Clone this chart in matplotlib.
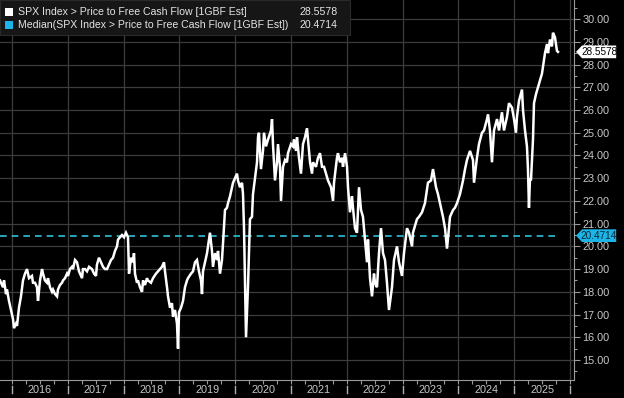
import matplotlib
matplotlib.use("Agg")
import matplotlib.pyplot as plt
import matplotlib.transforms as mtransforms
from matplotlib.patches import Polygon, Rectangle
import numpy as np

# ---- data (decimal year, P/FCF value) ----
dates = [
    2015.785, 2015.839, 2015.857, 2015.893, 2015.910, 2015.946, 2015.982, 2016.018, 2016.036, 2016.072,
    2016.090, 2016.125, 2016.161, 2016.197, 2016.233, 2016.269, 2016.305, 2016.358, 2016.376, 2016.412,
    2016.448, 2016.466, 2016.502, 2016.538, 2016.556, 2016.591, 2016.627, 2016.645, 2016.681, 2016.717,
    2016.735, 2016.771, 2016.807, 2016.824, 2016.860, 2016.896, 2016.914, 2016.950, 2016.986, 2017.004,
    2017.039, 2017.075, 2017.093, 2017.129, 2017.165, 2017.201, 2017.255, 2017.272, 2017.308, 2017.344,
    2017.380, 2017.434, 2017.470, 2017.505, 2017.523, 2017.559, 2017.595, 2017.631, 2017.667, 2017.703,
    2017.738, 2017.774, 2017.810, 2017.846, 2017.882, 2017.900, 2017.936, 2017.971, 2018.007, 2018.043,
    2018.079,
    2018.097, 2018.133, 2018.168, 2018.186, 2018.204, 2018.240, 2018.258, 2018.294, 2018.330, 2018.348,
    2018.383, 2018.419, 2018.437, 2018.491, 2018.527, 2018.581, 2018.617, 2018.688, 2018.724, 2018.742,
    2018.778, 2018.796, 2018.832, 2018.867, 2018.885, 2018.921, 2018.957, 2018.975, 2018.993, 2019.029,
    2019.065, 2019.100, 2019.136, 2019.154, 2019.208, 2019.244, 2019.280, 2019.315, 2019.351, 2019.387,
    2019.405, 2019.423, 2019.459, 2019.495, 2019.513, 2019.548, 2019.584, 2019.602, 2019.638, 2019.674,
    2019.692, 2019.728, 2019.763, 2019.781, 2019.817, 2019.853, 2019.871, 2019.907, 2019.943, 2019.961,
    2019.996, 2020.032, 2020.050, 2020.086, 2020.122, 2020.140, 2020.158, 2020.176,
    2020.194, 2020.229, 2020.265, 2020.301, 2020.319, 2020.355, 2020.391, 2020.409, 2020.426, 2020.462,
    2020.498, 2020.516, 2020.552, 2020.588, 2020.642, 2020.660, 2020.677, 2020.713, 2020.749, 2020.767,
    2020.803, 2020.821, 2020.857, 2020.893, 2020.928, 2020.946, 2021.000, 2021.036, 2021.054, 2021.090,
    2021.108, 2021.143, 2021.179, 2021.215, 2021.251, 2021.287, 2021.305, 2021.341, 2021.377, 2021.394,
    2021.448, 2021.484, 2021.520, 2021.556, 2021.592, 2021.627, 2021.663, 2021.717, 2021.753, 2021.771,
    2021.824, 2021.842, 2021.878, 2021.914, 2021.932, 2021.968, 2022.004, 2022.022, 2022.057, 2022.093,
    2022.111, 2022.147, 2022.183, 2022.219,
    2022.255, 2022.290, 2022.326, 2022.362, 2022.380, 2022.416, 2022.452, 2022.488, 2022.505, 2022.541,
    2022.577, 2022.613, 2022.649, 2022.685, 2022.720, 2022.756, 2022.810, 2022.846, 2022.900, 2022.936,
    2022.989, 2023.025, 2023.079, 2023.115, 2023.169, 2023.186, 2023.258, 2023.294, 2023.348, 2023.401,
    2023.455, 2023.509, 2023.545, 2023.599, 2023.634, 2023.688, 2023.724, 2023.760, 2023.796, 2023.850,
    2023.904, 2023.939, 2023.975, 2024.029, 2024.083, 2024.119, 2024.154, 2024.208, 2024.262, 2024.280,
    2024.333, 2024.369, 2024.423, 2024.459, 2024.513, 2024.531, 2024.566, 2024.602, 2024.638, 2024.692,
    2024.728, 2024.781, 2024.817, 2024.871, 2024.907, 2024.961, 2024.997, 2025.032, 2025.050, 2025.086,
    2025.140, 2025.158, 2025.194, 2025.229, 2025.247, 2025.265, 2025.283, 2025.301, 2025.337, 2025.355,
    2025.391, 2025.427, 2025.462, 2025.498, 2025.516, 2025.552, 2025.588, 2025.606, 2025.642, 2025.677,
    2025.695, 2025.731, 2025.767, 2025.785,
]
pfcf = [
    18.5, 18.2, 18.5, 17.9, 18.1, 17.6, 17.2, 16.8, 16.4, 16.6,
    16.5, 17.3, 17.8, 18.5, 18.8, 19.0, 18.6, 18.7, 18.4, 18.4,
    18.2, 17.6, 18.5, 19.0, 18.8, 18.5, 18.4, 18.6, 18.2, 18.0,
    18.1, 17.9, 17.8, 18.1, 18.3, 18.4, 18.5, 18.6, 18.8, 18.7,
    19.0, 19.1, 19.0, 19.4, 19.3, 18.9, 18.6, 19.0, 19.0, 18.9,
    19.1, 19.0, 18.8, 18.7, 19.2, 19.5, 19.3, 19.1, 19.0, 19.0,
    19.2, 19.4, 19.5, 19.8, 20.0, 20.3, 20.4, 20.5, 20.4, 20.6,
    20.4,
    18.8, 19.5, 19.3, 19.7, 18.8, 18.4, 18.5, 18.2, 18.0, 18.5,
    18.3, 18.6, 18.5, 18.4, 18.6, 18.8, 18.9, 19.1, 19.3, 18.9,
    18.2, 17.8, 17.3, 17.5, 16.9, 17.2, 16.6, 15.5, 17.1, 17.3,
    17.6, 18.2, 18.5, 18.6, 18.8, 18.9, 19.3, 19.4, 18.9, 18.5,
    17.9, 18.9, 19.3, 19.7, 20.0, 20.6, 19.8, 19.1, 19.7, 19.4,
    19.8, 18.8, 19.4, 20.1, 21.6, 21.7, 21.9, 22.2, 22.6, 22.8,
    23.0, 23.2, 22.9, 22.6, 22.8, 22.3, 20.8, 18.5,
    16.0, 18.2, 21.2, 21.3, 22.3, 23.0, 23.7, 24.8, 25.0, 23.4,
    24.2, 25.0, 24.4, 24.7, 25.1, 25.6, 24.5, 22.9, 23.7, 24.5,
    23.5, 22.0, 23.5, 23.8, 23.7, 24.1, 24.5, 24.4, 24.7, 24.2,
    24.8, 23.9, 23.2, 24.5, 24.8, 25.2, 24.7, 23.7, 23.2, 23.7,
    23.5, 23.9, 24.1, 23.5, 23.5, 23.2, 22.9, 22.6, 22.0, 22.8,
    23.9, 24.1, 23.7, 23.9, 23.5, 24.1, 23.5, 22.6, 21.5, 22.2,
    21.7, 20.8, 20.6, 22.6,
    21.6, 21.3, 20.3, 19.3, 20.3, 18.6, 17.8, 18.8, 18.4, 18.2,
    19.7, 20.8, 19.7, 19.4, 18.4, 17.2, 18.2, 19.4, 20.0, 19.3,
    18.7, 19.7, 20.8, 20.6, 20.0, 20.6, 21.2, 21.3, 21.5, 21.9,
    22.8, 22.9, 23.4, 22.6, 22.3, 21.7, 21.3, 20.8, 19.9, 21.3,
    21.6, 21.7, 21.9, 22.3, 22.9, 23.4, 23.8, 24.2, 23.8, 22.8,
    23.9, 24.5, 25.0, 25.1, 25.6, 25.8, 25.1, 23.7, 25.1, 25.6,
    25.1, 25.9, 25.1, 25.7, 26.3, 26.1, 25.6, 25.0, 25.7, 26.4,
    26.9, 26.0, 25.1, 24.4, 23.4, 21.7, 23.0, 22.9, 24.7, 26.3,
    26.7, 27.0, 27.3, 27.6, 27.9, 28.5, 28.9, 28.5, 29.1, 28.8,
    29.4, 29.2, 28.6, 28.5578,
]
last_value = 28.5578
median_value = 20.4714
series_name = "SPX Index > Price to Free Cash Flow [1GBF Est]"
median_name = "Median(SPX Index > Price to Free Cash Flow [1GBF Est])"
year_labels = [2016, 2017, 2018, 2019, 2020, 2021, 2022, 2023, 2024, 2025]
y_ticks = list(range(15, 31))

# ---- style ----
BG = "#000000"
GRID = "#3d3d3d"
TXT = "#c8c8c8"
CYAN = "#2fc1d6"
TAGCYAN = "#1ab4e6"
plt.rcParams["font.family"] = ["Liberation Sans", "DejaVu Sans"]

fig = plt.figure(figsize=(6.24, 3.98), dpi=100, facecolor=BG)
ax = fig.add_axes([0.0, 1 - 380 / 398, 574 / 624, 380 / 398])
ax.set_facecolor(BG)

ax.set_xlim(2015.785, 2026.072)
ax.set_ylim(14.12, 30.84)

# grid
for yv in y_ticks:
    ax.axhline(yv, color=GRID, lw=0.9, zorder=1)
for yr in year_labels + [2026]:
    ax.axvline(yr, color=GRID, lw=0.9, zorder=1)

# series
ax.plot(dates, pfcf, color="white", lw=1.8, zorder=3, solid_joinstyle="miter")
ax.plot([dates[0], dates[-1]], [median_value, median_value], color=CYAN,
        lw=1.2, ls=(0, (4, 3)), zorder=2)

# spines
for s in ["left", "top"]:
    ax.spines[s].set_visible(False)
ax.spines["right"].set_color("#9a9a9a")
ax.spines["bottom"].set_color("#9a9a9a")
ax.spines["right"].set_linewidth(0.8)
ax.spines["bottom"].set_linewidth(0.8)

# y axis on right
ax.yaxis.tick_right()
ax.set_yticks(y_ticks)
ax.set_yticklabels([f"{v:.2f}" for v in y_ticks])
ax.set_yticks(np.arange(14.5, 30.6, 0.5), minor=True)
ax.tick_params(axis="y", which="major", length=4, width=0.8, color="#9a9a9a",
               labelcolor=TXT, labelsize=7.8, pad=2)
ax.tick_params(axis="y", which="minor", length=2, width=0.8, color="#9a9a9a")

# x axis: quarter ticks, year separators, mid-year labels
ax.set_xticks(np.arange(2016, 2026.01, 0.25), minor=True)
ax.set_xticks([])
ax.tick_params(axis="x", which="minor", length=3, width=0.8, color="#9a9a9a")
bt = mtransforms.blended_transform_factory(ax.transData, ax.transAxes)
for yr in year_labels + [2026]:
    ax.plot([yr, yr], [-0.016, -0.033], transform=bt, color="#b0b0b0",
            lw=1.0, clip_on=False)
for yr in year_labels:
    ax.text(yr + 0.5, -0.026, str(yr), transform=bt, ha="center", va="center",
            color=TXT, fontsize=7.8)

# value tags on right
rt = mtransforms.blended_transform_factory(ax.transAxes, ax.transData)
def tag(val, fc, tc):
    h = 0.28
    x0, x1, x2 = 1.0035, 1.014, 1.0735
    poly = Polygon([[x0, val], [x1, val + h], [x2, val + h], [x2, val - h], [x1, val - h]],
                   closed=True, transform=rt, fc=fc, ec="none", clip_on=False, zorder=10)
    ax.add_patch(poly)
    ax.text((x1 + x2) / 2, val, f"{val:.4f}", transform=rt, ha="center", va="center",
            color=tc, fontsize=7.2, zorder=11, clip_on=False)
tag(last_value, "white", "black")
tag(median_value, TAGCYAN, "#0a2a3a")

# legend box at top-left
fig.patches.append(Rectangle((0, 1 - 35 / 398), 350 / 624, 35 / 398, transform=fig.transFigure,
                             fc="#161616", ec="#2a2a2a", lw=0.8, zorder=20))
rows = [(series_name, last_value, "white", 12), (median_name, median_value, TAGCYAN, 25)]
for name, val, col, ypx in rows:
    yf = 1 - ypx / 398
    fig.patches.append(Rectangle((5 / 624, yf - 4 / 398), 8 / 624, 8 / 398,
                                 transform=fig.transFigure, fc=col, ec="none", zorder=21))
    fig.text(18 / 624, yf, name, color="#e4e4e4", fontsize=7.6, va="center", ha="left", zorder=22)
    fig.text(338 / 624, yf, f"{val:.4f}", color="#e4e4e4", fontsize=7.6, va="center", ha="right", zorder=22)

fig.savefig("out.png", dpi=100, facecolor=BG)
